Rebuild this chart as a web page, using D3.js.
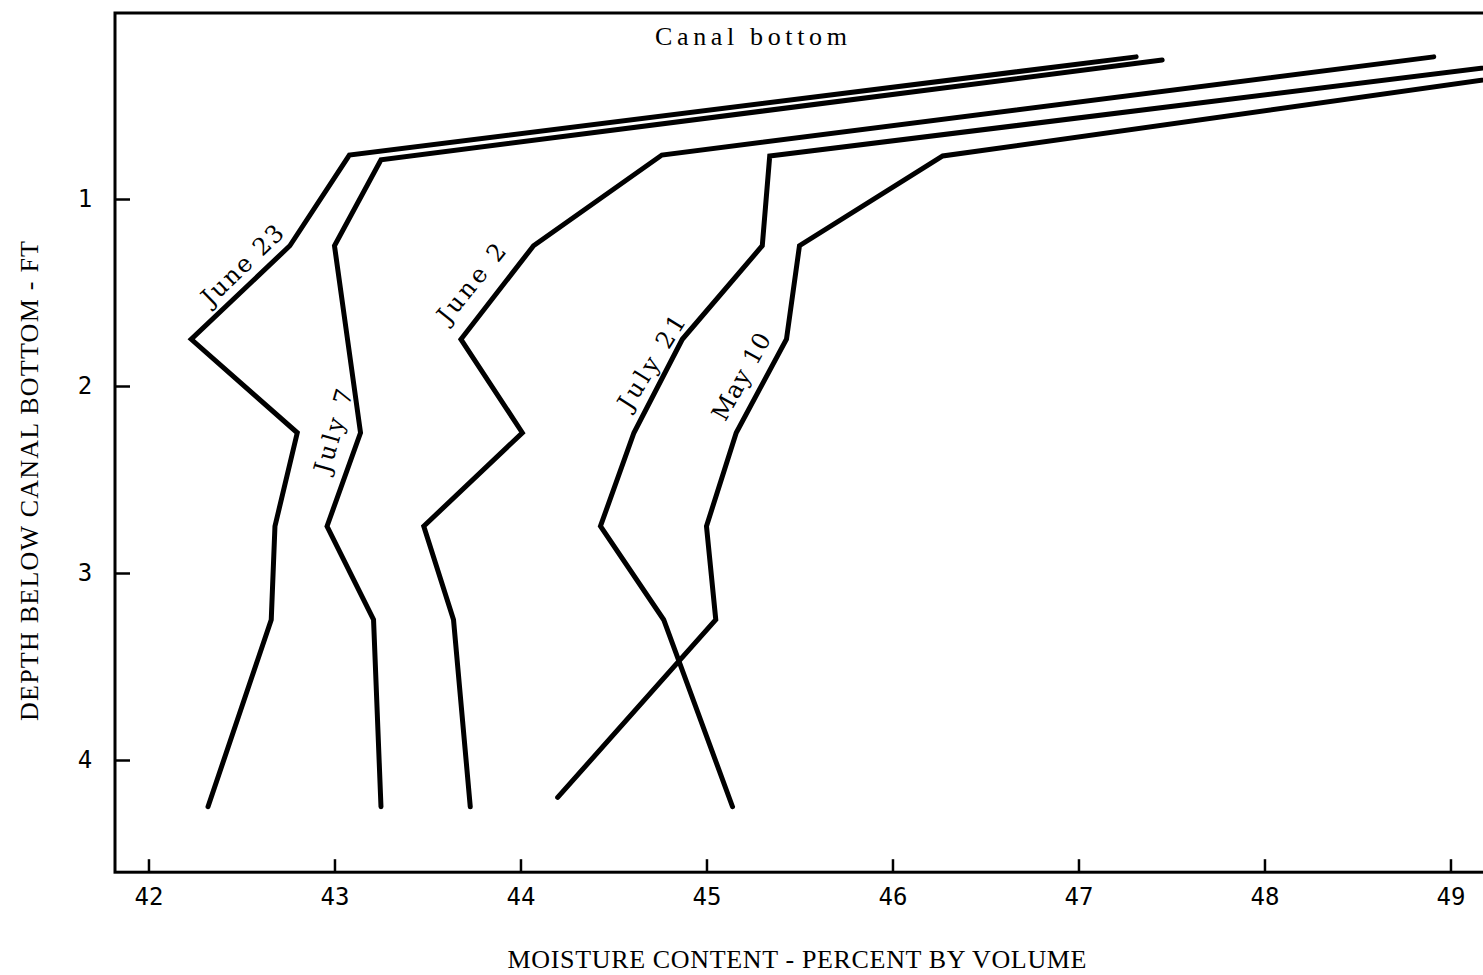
<!DOCTYPE html>
<html>
<head>
<meta charset="utf-8">
<script src="https://cdn.jsdelivr.net/npm/d3@7"></script>
<style>
  html, body { margin: 0; padding: 0; background: #fff; overflow: hidden; }
  svg { display: block; }
</style>
</head>
<body>
<svg id="chart" width="1483" height="975"></svg>
<script>
// ---------- DATA ----------
// depth below canal bottom (ft) of each reading, per curve
const depthsJune23 = [0.24, 0.765, 1.25, 1.75, 2.25, 2.75, 3.25, 4.25];
const depthsJuly7  = [0.257, 0.79, 1.25, 1.75, 2.25, 2.75, 3.25, 4.25];
const depthsJune2  = [0.24, 0.765, 1.25, 1.75, 2.25, 2.75, 3.25, 4.25];
const depthsJuly21 = [0.25, 0.77, 1.25, 1.75, 2.25, 2.75, 3.25, 4.25];
const depthsMay10  = [0.25, 0.77, 1.25, 1.75, 2.25, 2.75, 3.25, 4.2];
// moisture content (percent by volume)
const june23 = [47.31, 43.08, 42.76, 42.23, 42.80, 42.68, 42.66, 42.32];
const july7  = [47.45, 43.25, 43.00, 43.07, 43.14, 42.96, 43.21, 43.25];
const june2  = [48.91, 44.76, 44.07, 43.68, 44.01, 43.48, 43.64, 43.73];
const july21 = [49.58, 45.34, 45.30, 44.87, 44.61, 44.43, 44.77, 45.14];
const may10  = [49.99, 46.27, 45.50, 45.43, 45.16, 45.00, 45.05, 44.20];
const seriesNames = ["June 23", "July 7", "June 2", "July 21", "May 10"];
const xTicks = [42, 43, 44, 45, 46, 47, 48, 49];
const yTicks = [1, 2, 3, 4];
// label anchors in data units (moisture, depth)
const labelX = [42.547, 43.052, 43.783, 44.756, 45.240];
const labelDepth = [1.396, 2.257, 1.487, 1.904, 1.979];

// ---------- BUILD ----------
const labelAngle = [-44, -74, -51, -58, -61];
const labelLength = [104, 86, 94, 106, 96];

const series = [
  { name: seriesNames[0], vals: june23, d: depthsJune23 },
  { name: seriesNames[1], vals: july7, d: depthsJuly7 },
  { name: seriesNames[2], vals: june2, d: depthsJune2 },
  { name: seriesNames[3], vals: july21, d: depthsJuly21 },
  { name: seriesNames[4], vals: may10, d: depthsMay10 }
];

const svg = d3.select("#chart");
const plotLeft = 115, plotTop = 12;
const pxPerX = 186, pxPerY = 187;
const xMin = 41.82, xMax = 49.9;
const yMax = 4.6;

const x = d3.scaleLinear().domain([xMin, xMax]).range([plotLeft, plotLeft + (xMax - xMin) * pxPerX]);
const y = d3.scaleLinear().domain([0, yMax]).range([plotTop, plotTop + yMax * pxPerY]);

const titleFont = "'Liberation Serif', 'Times New Roman', serif";
const tickFont = "'DejaVu Sans Mono', monospace";
const labelFont = "'DejaVu Serif', 'Liberation Serif', serif";

// frame
svg.append("rect")
  .attr("x", x(xMin)).attr("y", y(0) + 1)
  .attr("width", x(xMax) - x(xMin)).attr("height", y(yMax) - y(0) - 1)
  .attr("fill", "none").attr("stroke", "#000").attr("stroke-width", 3);

// x axis
const gx = svg.append("g")
  .attr("transform", `translate(0,${y(yMax)})`)
  .call(d3.axisBottom(x).tickValues(xTicks).tickSize(-13).tickPadding(16).tickFormat(d3.format("d")));
gx.select(".domain").remove();
gx.selectAll(".tick line").attr("stroke", "#000").attr("stroke-width", 2.5);
gx.selectAll(".tick text").attr("font-family", tickFont).attr("font-size", 24).attr("fill", "#000");

// y axis
const gy = svg.append("g")
  .attr("transform", `translate(${x(xMin)},0)`)
  .call(d3.axisLeft(y).tickValues(yTicks).tickSize(-15).tickFormat(d3.format("d")));
gy.select(".domain").remove();
gy.selectAll(".tick line").attr("stroke", "#000").attr("stroke-width", 2.5);
gy.selectAll(".tick text")
  .attr("x", -30).attr("text-anchor", "middle")
  .attr("font-family", tickFont).attr("font-size", 24).attr("fill", "#000");

// lines
const line = d3.line().x(p => x(p[0])).y(p => y(p[1]));
svg.append("g").selectAll("path")
  .data(series)
  .join("path")
  .attr("d", s => line(s.vals.map((v, i) => [v, s.d[i]])))
  .attr("fill", "none")
  .attr("stroke", "#000")
  .attr("stroke-width", 5)
  .attr("stroke-linejoin", "miter")
  .attr("stroke-linecap", "round");

// line labels
svg.append("g").selectAll("text")
  .data(seriesNames)
  .join("text")
  .attr("transform", (d, i) => `translate(${x(labelX[i])},${y(labelDepth[i])}) rotate(${labelAngle[i]})`)
  .attr("text-anchor", "middle")
  .attr("dy", -3)
  .attr("font-family", labelFont)
  .attr("font-size", 24)
  .attr("textLength", (d, i) => labelLength[i])
  .attr("lengthAdjust", "spacing")
  .attr("fill", "#000")
  .text(d => d);

// "Canal bottom"
svg.append("text")
  .attr("x", 751).attr("y", 45)
  .attr("text-anchor", "middle")
  .attr("font-family", titleFont).attr("font-size", 26)
  .attr("textLength", 192).attr("lengthAdjust", "spacing")
  .attr("fill", "#000")
  .text("Canal bottom");

// x axis title
svg.append("text")
  .attr("x", 797).attr("y", 968)
  .attr("text-anchor", "middle")
  .attr("font-family", titleFont).attr("font-size", 26)
  .attr("textLength", 579).attr("lengthAdjust", "spacing")
  .attr("fill", "#000")
  .text("MOISTURE CONTENT - PERCENT BY VOLUME");

// y axis title
svg.append("text")
  .attr("transform", "translate(38,481) rotate(-90)")
  .attr("text-anchor", "middle")
  .attr("font-family", titleFont).attr("font-size", 26)
  .attr("textLength", 480).attr("lengthAdjust", "spacing")
  .attr("fill", "#000")
  .text("DEPTH BELOW CANAL BOTTOM - FT");
</script>
</body>
</html>
